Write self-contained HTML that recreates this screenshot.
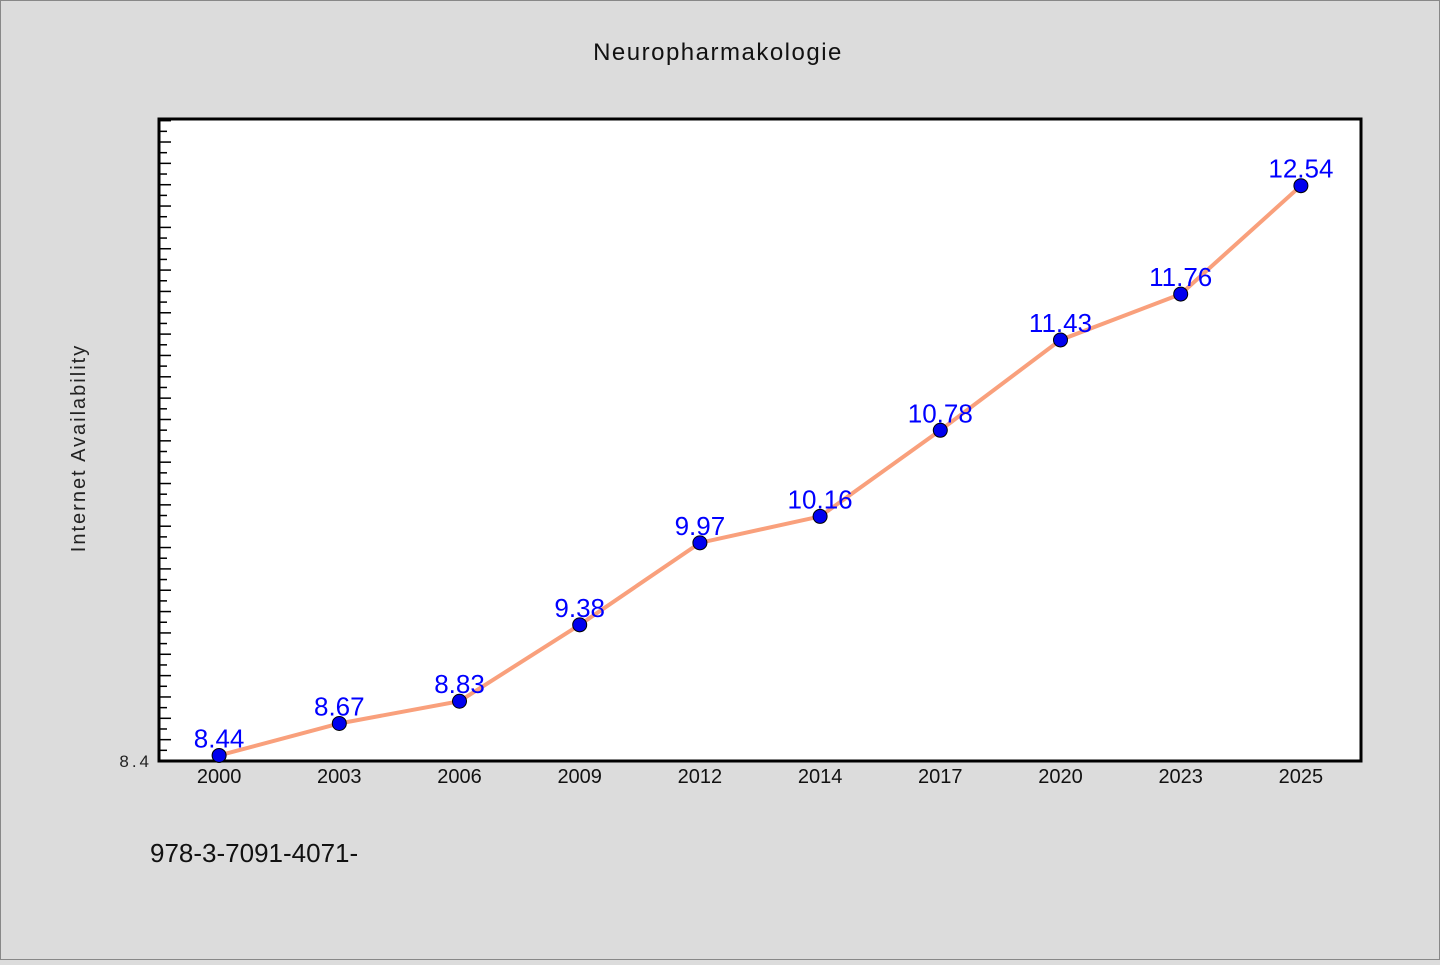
<!DOCTYPE html>
<html><head><meta charset="utf-8"><style>
body{margin:0;background:#dcdcdc;}
svg text{font-family:"WenQuanYi Zen Hei","Liberation Sans",sans-serif;}
</style></head><body>
<svg id="c" width="1440" height="960" xmlns="http://www.w3.org/2000/svg">
<rect x="0.5" y="0.5" width="1439" height="959" fill="#dcdcdc" stroke="#888"/>
<text x="718" y="60" text-anchor="middle" font-size="24" letter-spacing="1.5" fill="#111">Neuropharmakologie</text>
<text transform="translate(85,448) rotate(-90)" text-anchor="middle" font-size="20" letter-spacing="2" fill="#222">Internet Availability</text>
<rect x="159" y="119" width="1202" height="642" fill="#fff" stroke="#000" stroke-width="3"/>
<g id="ticks"></g>
<g id="marks"></g>
<text x="150" y="862" font-size="26" fill="#111">978-3-7091-4071-</text>
</svg>
<script>
const categories=["2000","2003","2006","2009","2012","2014","2017","2020","2023","2025"];
const values=[8.44,8.67,8.83,9.38,9.97,10.16,10.78,11.43,11.76,12.54];
const yTickLabels=["8.4"];
const NS="http://www.w3.org/2000/svg";
const L=159,R=1361,T=119,B=761,yMin=8.4,yMax=13.02;
const xs=i=>L+(R-L)/categories.length*(i+0.5);
const ys=v=>B-(v-yMin)/(yMax-yMin)*(B-T);
function mk(t,a,p){const e=document.createElementNS(NS,t);for(const k in a)e.setAttribute(k,a[k]);p.appendChild(e);return e;}
const tg=document.getElementById('ticks'),mg=document.getElementById('marks');
for(let v=yMin+0.0768,i=1;v<yMax;v+=0.0768,i++){
  const t=mk('line',{x1:L,x2:L+(i%2?8:12),y1:ys(v),y2:ys(v),stroke:'#000','stroke-width':1.5},tg);
  
  
}
yTickLabels.forEach(s=>{
  const t=mk('text',{x:152,y:ys(+s)+6,'text-anchor':'end','font-size':17,fill:'#222','letter-spacing':3},tg);
  t.textContent=s;
  
  
});
categories.forEach((c,i)=>{
  const t=mk('text',{x:xs(i),y:783,'text-anchor':'middle','font-size':20,fill:'#111'},tg);
  t.textContent=c;
  
  
});
const line=mk('polyline',{points:values.map((v,i)=>xs(i)+','+ys(v)).join(' '),fill:'none',stroke:'#f9a07c','stroke-width':4},mg);


values.forEach((v,i)=>{
  const p=mk('circle',{cx:xs(i),cy:ys(v),r:7,fill:'#0000ee',stroke:'#000','stroke-width':1},mg);
  
  
  const t=mk('text',{x:xs(i),y:ys(v)-8,'text-anchor':'middle','font-size':26,fill:'#0000ff'},mg);
  t.textContent=v.toFixed(2);
  
  
});
</script>
</body></html>
